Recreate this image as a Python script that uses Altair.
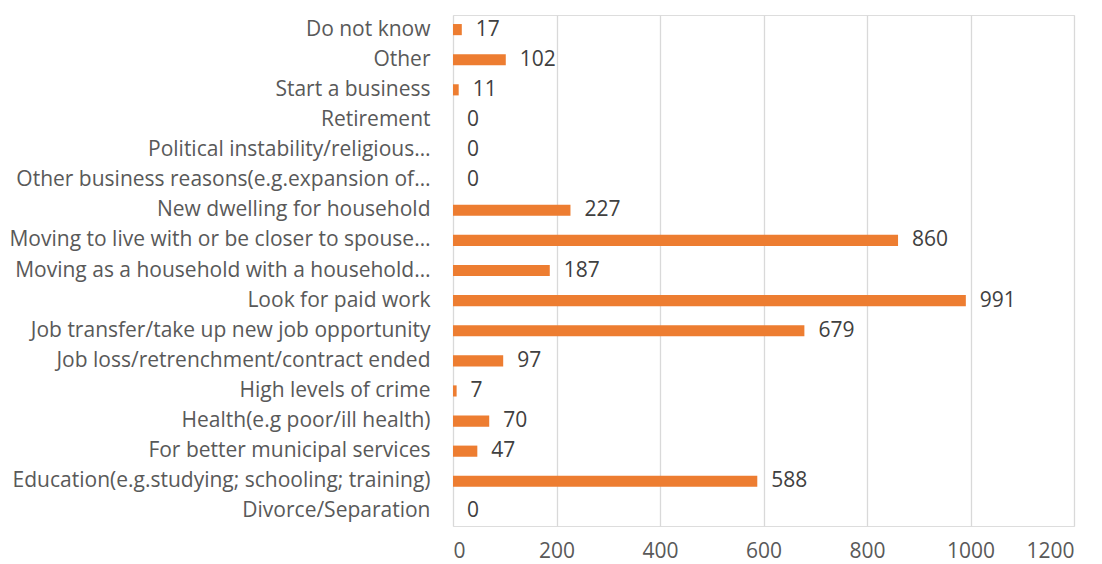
import altair as alt
import pandas as pd

categories = [
    "Do not know",
    "Other",
    "Start a business",
    "Retirement",
    "Political instability/religious…",
    "Other business reasons(e.g.expansion of…",
    "New dwelling for household",
    "Moving to live with or be closer to spouse…",
    "Moving as a household with a household…",
    "Look for paid work",
    "Job transfer/take up new job opportunity",
    "Job loss/retrenchment/contract ended",
    "High levels of crime",
    "Health(e.g poor/ill health)",
    "For better municipal services",
    "Education(e.g.studying; schooling; training)",
    "Divorce/Separation",
]
values = [17, 102, 11, 0, 0, 0, 227, 860, 187, 991, 679, 97, 7, 70, 47, 588, 0]
x_ticks = [0, 200, 400, 600, 800, 1000, 1200]

df = pd.DataFrame({"category": categories, "value": values})

FONT = "Open Sans"
TEXT = "#595959"
FS = 21

y_enc = alt.Y(
    "category:N",
    sort=categories,
    title=None,
    scale=alt.Scale(paddingInner=0.63, paddingOuter=0.3),
    axis=alt.Axis(
        labelFont=FONT,
        labelFontSize=FS,
        labelColor=TEXT,
        labelLimit=600,
        labelPadding=23,
        ticks=False,
        domain=False,
        grid=False,
    ),
)
x_enc = alt.X(
    "value:Q",
    title=None,
    scale=alt.Scale(domain=[0, 1200], nice=False),
    axis=alt.Axis(
        values=x_ticks,
        format="d",
        labelFont=FONT,
        labelFontSize=FS,
        labelColor=TEXT,
        labelPadding=14,
        ticks=False,
        domain=False,
        grid=True,
        gridColor="#D9D9D9",
        gridWidth=1.3,
    ),
)

bars = alt.Chart(df).mark_bar(color="#ED7D31").encode(x=x_enc, y=y_enc)
labels = alt.Chart(df).mark_text(
    align="left", baseline="middle", dx=14, font=FONT, fontSize=FS, color="#404040"
).encode(x="value:Q", y=alt.Y("category:N", sort=categories), text="value:Q")

chart = (
    alt.layer(bars, labels)
    .properties(
        width=621,
        height=511,
        autosize=alt.AutoSizeParams(type="none"),
        padding={"left": 453, "top": 15, "right": 28, "bottom": 38},
    )
    .configure_view(strokeWidth=0)
    .configure(background="white")
)

chart.save("out.html", embed_options={"renderer": "svg", "actions": False})
